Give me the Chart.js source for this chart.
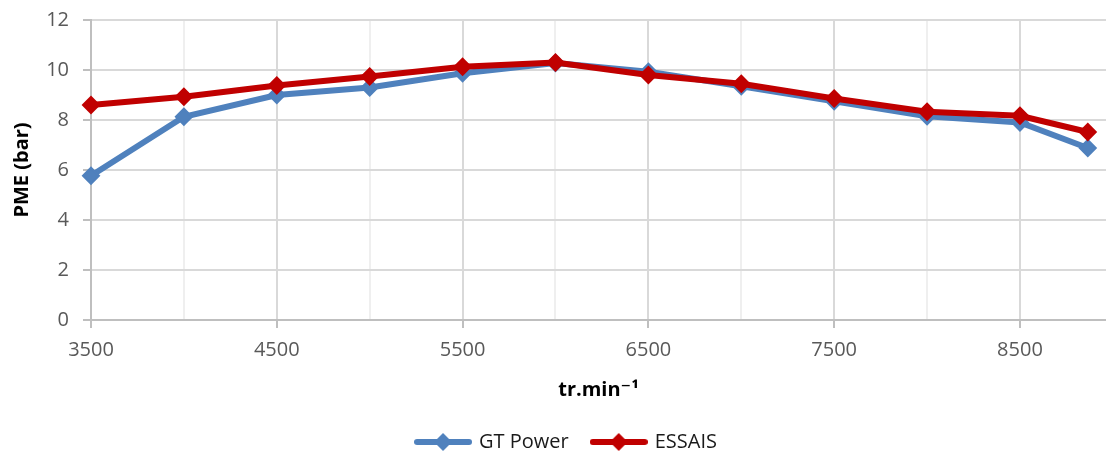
<!DOCTYPE html>
<html><head><meta charset="utf-8">
<script src="https://cdn.jsdelivr.net/npm/chart.js@4/dist/chart.umd.min.js"></script>
<style>html,body{margin:0;padding:0;background:#fff}</style>
</head><body>
<canvas id="c" width="1106" height="452"></canvas>
<script>
// ---- data ----
const rpm = [3500, 4000, 4500, 5000, 5500, 6000, 6500, 7000, 7500, 8000, 8500, 8865];
const gtPower = [5.77, 8.13, 9.0, 9.3, 9.87, 10.28, 9.93, 9.35, 8.75, 8.15, 7.9, 6.88];
const essais  = [8.6, 8.93, 9.38, 9.74, 10.13, 10.3, 9.8, 9.45, 8.86, 8.33, 8.17, 7.52];
const seriesNames = ['GT Power', 'ESSAIS'];
const seriesColors = ['#4F81BD', '#C00000'];
const yTicks = [0, 2, 4, 6, 8, 10, 12];
const xTickLabels = [3500, 4500, 5500, 6500, 7500, 8500];
const xMinorGrid = [4000, 5000, 6000, 7000, 8000];
const xMin = 3500, xMax = 8963;

const FONT = "'Open Sans', 'DejaVu Sans', sans-serif";

function makeLegendImg(color) {
  const c = document.createElement('canvas');
  c.width = 58; c.height = 20;
  const g = c.getContext('2d');
  g.strokeStyle = color; g.lineWidth = 6; g.lineCap = 'round';
  g.beginPath(); g.moveTo(3, 10); g.lineTo(55, 10); g.stroke();
  g.fillStyle = color;
  g.beginPath(); g.moveTo(29, 1); g.lineTo(38, 10); g.lineTo(29, 19); g.lineTo(20, 10); g.closePath(); g.fill();
  return c;
}
const legendImgs = seriesColors.map(makeLegendImg);

const toPts = (xs, ys) => xs.map((x, i) => ({x, y: ys[i]}));

const allXTicks = xTickLabels.concat(xMinorGrid).sort((a, b) => a - b);

const legendShift = {
  id: 'legendShift',
  afterLayout(chart) {
    if (chart.legend) { chart.legend.left += 14; chart.legend.right += 14; }
  }
};

new Chart(document.getElementById('c'), {
  type: 'line',
  plugins: [legendShift],
  data: {
    datasets: [
      {label: seriesNames[0], data: toPts(rpm, gtPower), borderColor: seriesColors[0], backgroundColor: seriesColors[0],
       borderWidth: 6, pointStyle: 'rectRot', pointRadius: 8, pointBorderWidth: 2, pointBackgroundColor: seriesColors[0],
       pointBorderColor: seriesColors[0], tension: 0, order: 1, clip: false},
      {label: seriesNames[1], data: toPts(rpm, essais), borderColor: seriesColors[1], backgroundColor: seriesColors[1],
       borderWidth: 6, pointStyle: 'rectRot', pointRadius: 8, pointBorderWidth: 2, pointBackgroundColor: seriesColors[1],
       pointBorderColor: seriesColors[1], tension: 0, order: 0, clip: false}
    ]
  },
  options: {
    responsive: false,
    animation: false,
    layout: {autoPadding: false, padding: {top: 20, right: 0, bottom: -10, left: 0}},
    plugins: {
      tooltip: {enabled: false},
      legend: {
        position: 'bottom',
        labels: {
          usePointStyle: true,
          pointStyleWidth: 52,
          padding: 24,
          color: '#1a1a1a',
          font: {family: FONT, size: 20},
          sort: (a, b) => a.datasetIndex - b.datasetIndex,
          generateLabels(chart) {
            const items = Chart.defaults.plugins.legend.labels.generateLabels(chart);
            items.forEach(it => { it.pointStyle = legendImgs[it.datasetIndex]; });
            return items;
          }
        }
      }
    },
    scales: {
      x: {
        type: 'linear',
        min: xMin, max: xMax,
        afterFit: s => { s.height = 88; s.paddingLeft = 0; s.paddingRight = 0; },
        afterBuildTicks: s => { s.ticks = allXTicks.map(v => ({value: v})); },
        ticks: {
          autoSkip: false, maxRotation: 0, padding: 10,
          color: '#595959', font: {family: FONT, size: 20},
          callback: v => xTickLabels.includes(v) ? String(v) : ''
        },
        grid: {
          lineWidth: 2,
          color: c => (c.tick && xMinorGrid.includes(c.tick.value)) ? '#efefef' : '#d9d9d9',
          tickColor: c => (c.tick && xMinorGrid.includes(c.tick.value)) ? 'rgba(0,0,0,0)' : '#bfbfbf',
          tickLength: 8
        },
        border: {color: '#bfbfbf', width: 2},
        title: {display: true, text: 'tr.min⁻¹', color: '#000', font: {family: FONT, size: 20, weight: 'bold'},
                padding: {top: 0, bottom: 6}}
      },
      y: {
        min: 0, max: 12,
        afterFit: s => { s.width = 91; s.paddingTop = 0; s.paddingBottom = 0; },
        afterBuildTicks: s => { s.ticks = yTicks.map(v => ({value: v})); },
        ticks: {color: '#595959', font: {family: FONT, size: 20}, padding: 14},
        grid: {lineWidth: 2, color: '#d9d9d9', tickColor: '#bfbfbf', tickLength: 8},
        border: {color: '#bfbfbf', width: 2},
        title: {display: true, text: 'PME (bar)', color: '#000', font: {family: FONT, size: 20, weight: 'bold'},
                padding: {top: 10, bottom: 0}}
      }
    }
  }
});
</script>
</body></html>
